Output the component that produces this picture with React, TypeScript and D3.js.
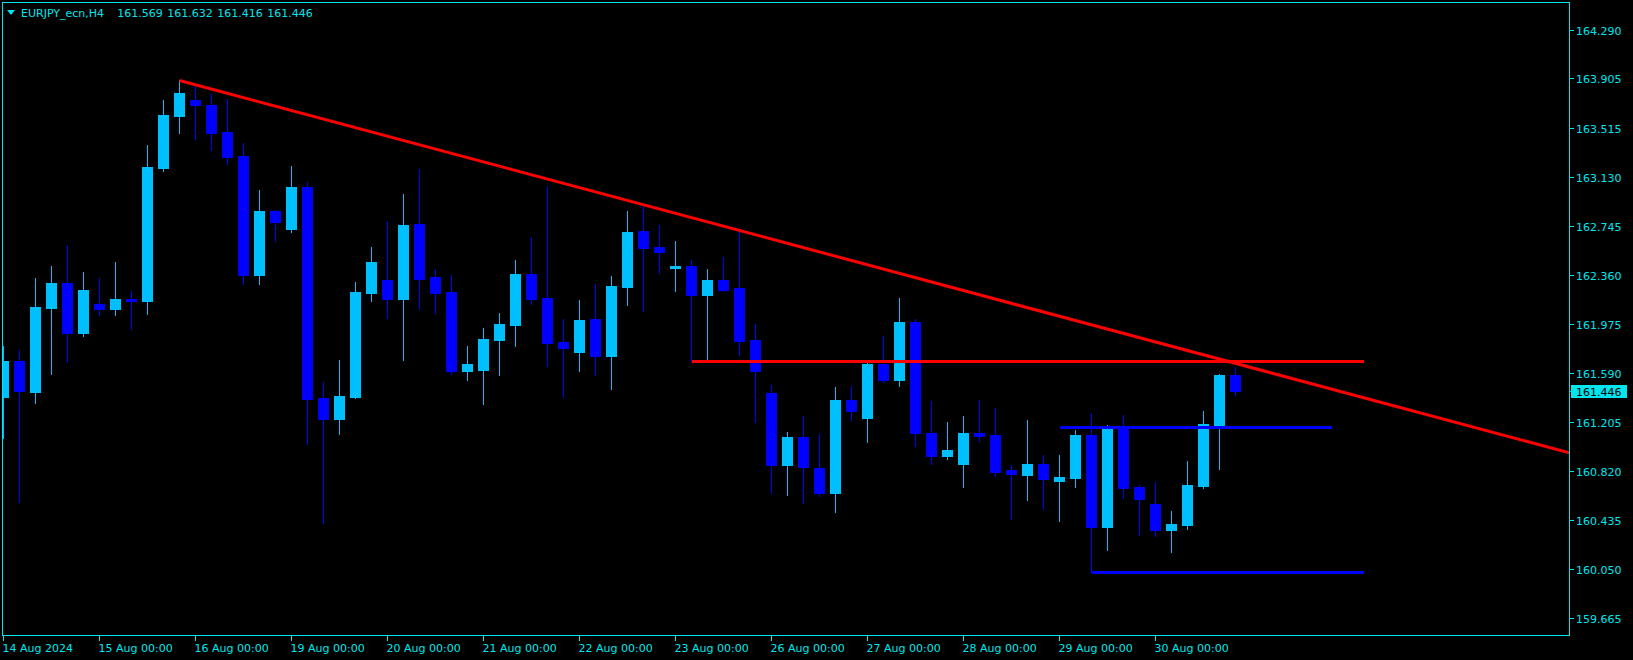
import React from 'react';
import * as d3 from 'd3';

const SYMBOL = 'EURJPY_ecn,H4';
const HEADER_VALUES = ['161.569', '161.632', '161.416', '161.446'];

const OPEN = [
  161.400, 161.680, 161.437, 162.097, 162.293, 161.900, 162.128, 162.089, 162.168, 162.152,
  163.197, 163.606, 163.732, 163.700, 163.480, 163.292, 162.356, 162.859, 162.718, 163.048,
  161.390, 161.225, 161.397, 162.215, 162.317, 162.168, 162.757, 162.341, 162.223, 161.602,
  161.610, 161.845, 161.963, 162.364, 162.176, 161.830, 161.751, 162.011, 161.720, 162.262,
  162.702, 162.576, 162.411, 162.427, 162.199, 162.317, 162.254, 161.845, 161.429, 160.863,
  161.083, 160.839, 160.643, 161.374, 161.232, 161.657, 161.531, 161.987, 161.114, 160.934,
  160.871, 161.114, 161.099, 160.824, 160.784, 160.871, 160.737, 160.761, 161.099, 160.376,
  161.154, 160.690, 160.556, 160.352, 160.391, 160.698, 161.177, 161.569,
];
const HIGH = [
  161.798, 161.767, 162.333, 162.427, 162.592, 162.380, 162.333, 162.459, 162.231, 163.378,
  163.732, 163.889, 163.842, 163.779, 163.740, 163.394, 163.024, 162.867, 163.213, 163.087,
  161.515, 161.688, 162.301, 162.576, 162.781, 162.993, 163.190, 162.404, 162.356, 161.798,
  161.940, 162.058, 162.474, 162.655, 163.056, 162.011, 162.160, 162.286, 162.348, 162.859,
  162.899, 162.749, 162.624, 162.474, 162.404, 162.498, 162.694, 161.971, 161.492, 161.122,
  161.248, 161.107, 161.476, 161.484, 161.665, 161.877, 162.176, 162.011, 161.366, 161.201,
  161.248, 161.374, 161.311, 160.863, 161.217, 160.942, 160.942, 161.138, 161.272, 161.177,
  161.256, 160.706, 160.729, 160.501, 160.894, 161.287, 161.578, 161.632,
];
const LOW = [
  161.078, 160.574, 161.353, 161.581, 161.673, 161.877, 162.042, 162.042, 161.932, 162.050,
  163.174, 163.472, 163.425, 163.339, 163.229, 162.286, 162.286, 162.624, 162.694, 161.028,
  160.407, 161.107, 161.390, 162.152, 162.018, 161.688, 162.089, 162.058, 161.578, 161.531,
  161.342, 161.570, 161.798, 162.128, 161.641, 161.397, 161.602, 161.570, 161.460, 162.121,
  162.073, 162.372, 162.231, 161.680, 161.696, 162.231, 161.728, 161.201, 160.643, 160.627,
  160.564, 160.619, 160.494, 161.217, 161.044, 161.515, 161.484, 161.012, 160.871, 160.910,
  160.690, 161.052, 160.776, 160.439, 160.588, 160.517, 160.423, 160.690, 160.022, 160.195,
  160.604, 160.313, 160.305, 160.179, 160.360, 160.682, 160.832, 161.416,
];
const CLOSE = [
  161.680, 161.445, 162.105, 162.293, 161.900, 162.238, 162.089, 162.168, 162.152, 163.205,
  163.614, 163.787, 163.693, 163.472, 163.284, 162.356, 162.859, 162.773, 163.048, 161.382,
  161.225, 161.405, 162.223, 162.459, 162.168, 162.749, 162.325, 162.215, 161.602, 161.657,
  161.853, 161.971, 162.364, 162.168, 161.822, 161.783, 162.003, 161.720, 162.270, 162.694,
  162.569, 162.537, 162.427, 162.199, 162.317, 162.238, 161.838, 161.602, 160.863, 161.083,
  160.847, 160.643, 161.374, 161.287, 161.657, 161.531, 161.987, 161.114, 160.934, 160.981,
  161.114, 161.091, 160.808, 160.792, 160.871, 160.753, 160.769, 161.099, 160.376, 161.154,
  160.682, 160.596, 160.352, 160.399, 160.706, 161.185, 161.570, 161.446,
];

const DAY_LABELS = [
  '14 Aug 2024', '15 Aug 00:00', '16 Aug 00:00', '19 Aug 00:00', '20 Aug 00:00',
  '21 Aug 00:00', '22 Aug 00:00', '23 Aug 00:00', '26 Aug 00:00', '27 Aug 00:00',
  '28 Aug 00:00', '29 Aug 00:00', '30 Aug 00:00',
];
const DAY_BARS = [0, 6, 12, 18, 24, 30, 36, 42, 48, 54, 60, 66, 72];

const PRICE_TICKS = [
  '164.290', '163.905', '163.515', '163.130', '162.745', '162.360', '161.975',
  '161.590', '161.205', '160.820', '160.435', '160.050', '159.665',
];

// Trendline anchors (bar index, price), drawn as a ray to the right edge
const TREND_BARS = [11, 46];
const TREND_PRICES = [163.889, 162.709];

// Horizontal line objects
const HLINE_PRICES = [161.680, 161.162, 160.022];
const HLINE_FROM = [43, 66, 68];
const HLINE_TO = [85, 83, 85];
const HLINE_KIND = ['red', 'blue', 'blue'];

const W = 1633;
const H = 660;
const FG = '#00e5ee';
const BULL = '#00bfff';
const BEAR = '#0000ff';
const FONT = '"DejaVu Sans", Verdana, sans-serif';

export default function App() {
  const left = 2.5;
  const right = 1569.5;
  const top = 2.5;
  const bottom = 635.5;

  const x = d3.scaleLinear().domain([0, 1]).range([3, 19]); // pixel column of bar centre
  const y = d3.scaleLinear().domain([159.665, 164.29]).range([617.5, 29.5]);

  const tickY = (i: number) => Math.round(y(+PRICE_TICKS[i])) + 0.5;

  // trendline ray
  const tx0 = x(TREND_BARS[0]) + 0.5;
  const ty0 = y(TREND_PRICES[0]);
  const slope = (y(TREND_PRICES[1]) - ty0) / (x(TREND_BARS[1]) - x(TREND_BARS[0]));
  const tx1 = right;
  const ty1 = ty0 + slope * (tx1 - tx0);
  const trendPath = d3.line()([[tx0, ty0], [tx1, ty1]]) || '';

  const lastClose = CLOSE[CLOSE.length - 1];
  const lastY = Math.round(y(lastClose));

  return (
    <svg
      width={W}
      height={H}
      style={{ position: 'absolute', left: 0, top: 0, display: 'block', background: '#000' }}
      shapeRendering="crispEdges"
    >
      <rect x={0} y={0} width={W} height={H} fill="#000" />
      <defs>
        <clipPath id="plot">
          <rect x={3} y={3} width={right - 3} height={bottom - 3} />
        </clipPath>
      </defs>

      <g clipPath="url(#plot)">
        {OPEN.map((o, i) => {
          const c = CLOSE[i];
          const bull = c > o;
          const col = bull ? BULL : BEAR;
          const cx = x(i);
          const yTop = Math.round(y(Math.max(o, c)));
          const yBot = Math.round(y(Math.min(o, c)));
          return (
            <g key={i}>
              <line
                x1={cx + 0.5}
                x2={cx + 0.5}
                y1={Math.round(y(HIGH[i]))}
                y2={Math.round(y(LOW[i])) + 1}
                stroke={col}
                strokeWidth={1}
              />
              <rect x={cx - 5} y={yTop} width={11} height={Math.max(1, yBot - yTop + 1)} fill={col} />
            </g>
          );
        })}

        {HLINE_PRICES.map((p, i) => {
          const yy = y(p);
          return (
            <line
              key={'h' + i}
              x1={x(HLINE_FROM[i]) + 0.5}
              x2={x(HLINE_TO[i]) + 0.5}
              y1={yy}
              y2={yy}
              stroke={HLINE_KIND[i] === 'red' ? '#ff0000' : '#0000ff'}
              strokeWidth={3}
            />
          );
        })}

        <path d={trendPath} stroke="#ff0000" strokeWidth={3} fill="none" shapeRendering="auto" />
      </g>

      {/* frame */}
      <rect x={left} y={top} width={right - left} height={bottom - top} fill="none" stroke={FG} strokeWidth={1} />

      {/* price axis */}
      {PRICE_TICKS.map((t, i) => {
        const ty = tickY(i);
        return (
          <g key={'pt' + i}>
            <line x1={right} x2={right + 4} y1={ty} y2={ty} stroke={FG} />
            <text x={1576} y={ty + 4.5} fill={FG} fontFamily={FONT} fontSize={11}>
              {t}
            </text>
          </g>
        );
      })}

      {/* last price label */}
      <line x1={right} x2={right + 3} y1={lastY + 0.5} y2={lastY + 0.5} stroke={FG} />
      <rect x={1571} y={lastY - 6} width={56} height={13} fill={FG} />
      <text x={1576} y={lastY + 5} fill="#000" fontFamily={FONT} fontSize={11}>
        {lastClose.toFixed(3)}
      </text>

      {/* time axis */}
      {DAY_BARS.map((b, i) => {
        const tx = x(b) + 0.5;
        return (
          <g key={'dt' + i}>
            <line x1={tx} x2={tx} y1={bottom} y2={bottom + 5} stroke={FG} />
            <text x={tx - 1} y={652} fill={FG} fontFamily={FONT} fontSize={11}>
              {DAY_LABELS[i]}
            </text>
          </g>
        );
      })}

      {/* header */}
      <path d="M7,10 L15,10 L11,15 Z" fill={FG} shapeRendering="auto" />
      <text x={21} y={16.5} fill={FG} fontFamily={FONT} fontSize={11}>
        {SYMBOL}
      </text>
      {HEADER_VALUES.map((v, i) => (
        <text key={'hv' + i} x={117.3 + i * 50} y={16.5} fill={FG} fontFamily={FONT} fontSize={11}>
          {v}
        </text>
      ))}
    </svg>
  );
}
